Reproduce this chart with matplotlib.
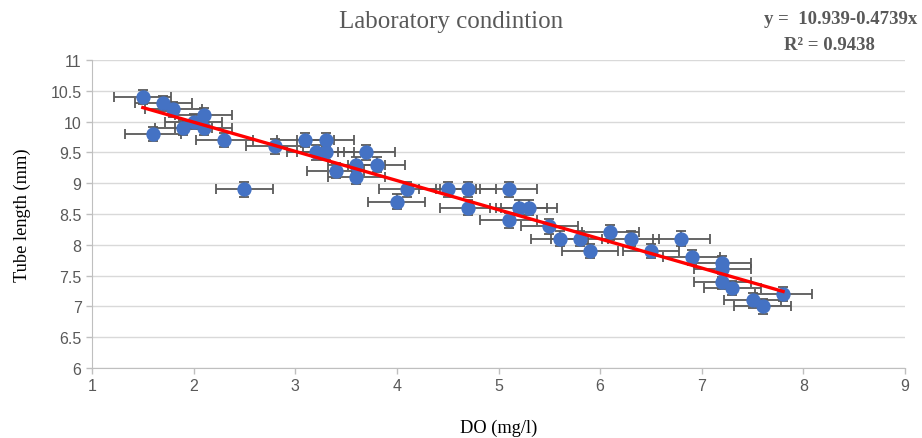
import numpy as np
import matplotlib.pyplot as plt
from matplotlib.ticker import FuncFormatter, MultipleLocator

# dissolved oxygen (mg/l) and tube length (mm)
do_mgl = [1.5, 1.6, 1.7, 1.8, 1.9, 2.0, 2.1, 2.1, 2.3, 2.5,
          2.8, 3.1, 3.2, 3.3, 3.3, 3.4, 3.6, 3.6, 3.7, 3.8,
          4.0, 4.1, 4.5, 4.7, 4.7, 5.1, 5.1, 5.2, 5.3, 5.5,
          5.6, 5.8, 5.9, 6.1, 6.3, 6.5, 6.8, 6.9, 7.2, 7.2,
          7.2, 7.3, 7.5, 7.6, 7.8]
tube_mm = [10.4, 9.8, 10.3, 10.2, 9.9, 10.0, 10.1, 9.9, 9.7, 8.9,
           9.6, 9.7, 9.5, 9.7, 9.5, 9.2, 9.3, 9.1, 9.5, 9.3,
           8.7, 8.9, 8.9, 8.9, 8.6, 8.9, 8.4, 8.6, 8.6, 8.3,
           8.1, 8.1, 7.9, 8.2, 8.1, 7.9, 8.1, 7.8, 7.7, 7.6,
           7.4, 7.3, 7.1, 7.0, 7.2]
do_err = 0.28
tube_err = 0.12

fit_intercept = 10.939
fit_slope = -0.4739
r_squared = 0.9438

GRAY = "#595959"
SERIF = "Liberation Serif"
SANS = "Liberation Sans"

fig = plt.figure(figsize=(9.22, 4.39), dpi=100)
ax = fig.add_axes([0.0998, 0.1595, 0.8818, 0.7015])

ax.errorbar(do_mgl, tube_mm, xerr=do_err, yerr=tube_err, fmt="none",
            ecolor=GRAY, elinewidth=1.3, capsize=3.6, capthick=1.3, zorder=2)
ax.plot(do_mgl, tube_mm, "o", color="#4472C4", markersize=9.3, zorder=3)

x_fit = np.array([min(do_mgl), max(do_mgl)])
ax.plot(x_fit, fit_intercept + fit_slope * x_fit, color="#FF0000", lw=2.4, zorder=4)

ax.set_xlim(1, 9)
ax.set_ylim(6, 11)
ax.xaxis.set_major_locator(MultipleLocator(1))
ax.yaxis.set_major_locator(MultipleLocator(0.5))
ax.yaxis.set_major_formatter(FuncFormatter(lambda v, p: f"{v:g}"))
ax.grid(axis="y", color="#d9d9d9", lw=1)
ax.set_axisbelow(True)
for s in ["top", "right"]:
    ax.spines[s].set_visible(False)
for s in ["left", "bottom"]:
    ax.spines[s].set_color("#bfbfbf")
ax.tick_params(colors="#bfbfbf", labelcolor=GRAY, length=4, width=1, labelsize=11.5)
for lab in ax.get_xticklabels() + ax.get_yticklabels():
    lab.set_fontfamily(SANS)

ax.set_xlabel("DO (mg/l)", fontfamily=SERIF, fontsize=13.2, color="black")
ax.set_ylabel("Tube length (mm)", fontfamily=SERIF, fontsize=13.2, color="black")
ax.xaxis.set_label_coords(0.5, -0.165)
ax.yaxis.set_label_coords(-0.075, 0.5)

fig.text(451.5 / 922, 1 - 22 / 439, "Laboratory condintion", ha="center", va="center",
         fontfamily=SERIF, fontsize=18, color=GRAY)
fig.text(841 / 922, 1 - 20 / 439, f"y =  {fit_intercept}{fit_slope}x", ha="center", va="center",
         fontfamily=SERIF, fontsize=13.5, fontweight="bold", color=GRAY)
fig.text(829 / 922, 1 - 46 / 439, f"R² = {r_squared}", ha="center", va="center",
         fontfamily=SERIF, fontsize=13.5, fontweight="bold", color=GRAY)

fig.savefig("out.png", dpi=100)
